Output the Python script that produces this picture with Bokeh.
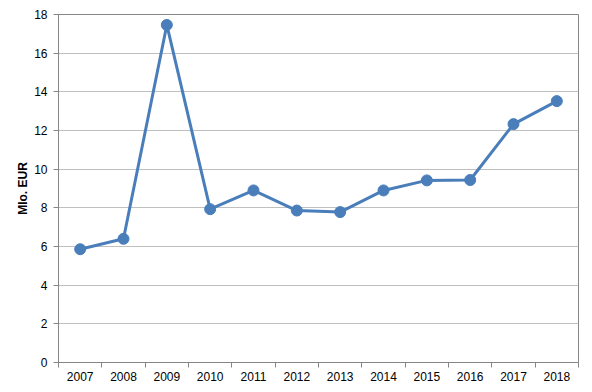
from bokeh.plotting import figure
from bokeh.models import FixedTicker, Range1d
from bokeh.embed import file_html
from bokeh.resources import INLINE

years = ["2007", "2008", "2009", "2010", "2011", "2012", "2013", "2014", "2015", "2016", "2017", "2018"]
values = [5.86, 6.4, 17.46, 7.93, 8.9, 7.86, 7.78, 8.9, 9.42, 9.44, 12.33, 13.52]
y_ticks = [0, 2, 4, 6, 8, 10, 12, 14, 16, 18]
y_label = "Mlo. EUR"

xs = list(range(1, len(years) + 1))

p = figure(width=592, height=392, output_backend="svg", toolbar_location=None,
           x_range=Range1d(0.5, len(years) + 0.5), y_range=Range1d(0, 18),
           min_border_left=58, min_border_right=14, min_border_top=14, min_border_bottom=30)
p.background_fill_color = "white"
p.border_fill_color = "white"
p.outline_line_color = "#868686"
p.outline_line_width = 1

p.xgrid.visible = False
p.ygrid.grid_line_color = "#bfbfbf"
p.ygrid.grid_line_width = 1

p.xaxis.ticker = FixedTicker(ticks=xs, minor_ticks=[x + 0.5 for x in range(0, len(years) + 1)])
p.xaxis.major_label_overrides = {x: y for x, y in zip(xs, years)}
p.xaxis.major_tick_line_color = None
p.xaxis.minor_tick_line_color = "#868686"
p.xaxis.minor_tick_out = 5
p.xaxis.minor_tick_in = 0
p.xaxis.axis_line_color = "#868686"
p.xaxis.major_label_text_font = "Liberation Sans"
p.xaxis.major_label_text_font_size = "12px"
p.xaxis.major_label_text_color = "#000000"
p.xaxis.major_label_standoff = 3

p.yaxis.ticker = FixedTicker(ticks=y_ticks)
p.yaxis.minor_tick_line_color = None
p.yaxis.major_tick_line_color = "#868686"
p.yaxis.major_tick_out = 5
p.yaxis.major_tick_in = 0
p.yaxis.axis_line_color = "#868686"
p.yaxis.major_label_text_font = "Liberation Sans"
p.yaxis.major_label_text_font_size = "12px"
p.yaxis.major_label_text_color = "#000000"
p.yaxis.major_label_standoff = 6
p.yaxis.axis_label = y_label
p.yaxis.axis_label_text_font = "Liberation Sans"
p.yaxis.axis_label_text_font_size = "12px"
p.yaxis.axis_label_text_font_style = "bold"
p.yaxis.axis_label_text_color = "#000000"
p.yaxis.axis_label_standoff = 1

p.line(xs, values, line_color="#4a7ebb", line_width=3)
p.scatter(xs, values, size=11, fill_color="#4a7ebb", line_color="#4a7ebb")

open("out.html", "w").write(file_html(p, INLINE))
